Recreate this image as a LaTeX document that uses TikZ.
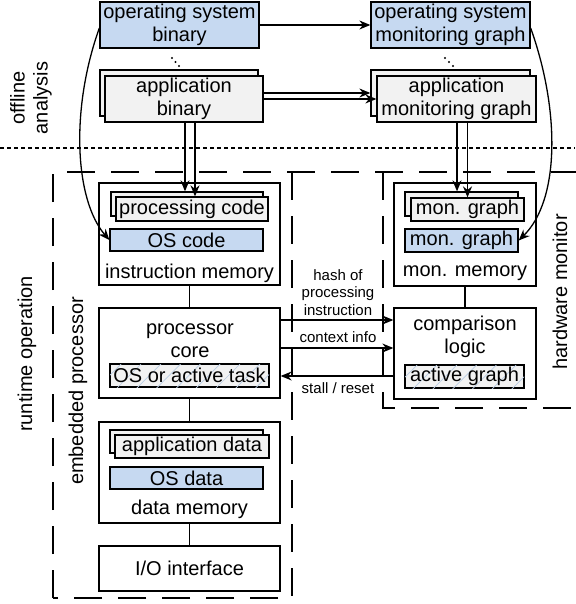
\documentclass[tikz,border=0pt]{standalone}
\usepackage{fontspec}
\setmainfont{Liberation Sans}
\usetikzlibrary{arrows.meta,patterns.meta,calc}
\definecolor{osblue}{HTML}{C6D9F1}
\definecolor{appgray}{HTML}{F2F2F2}
\definecolor{hatchc}{HTML}{B8CCE4}
\newcommand\fbig{\fontsize{20}{23}\selectfont}
\newcommand\fsmall{\fontsize{15}{17.5}\selectfont}
\begin{document}
\begin{tikzpicture}[x=1pt,y=-1pt,
  box/.style={draw=black,line width=1.3pt,fill=white,inner sep=0pt,font=\fbig,align=center},
  osbox/.style={box,fill=osblue},
  appbox/.style={box,fill=appgray},
  taskbox/.style={box,fill=appgray,postaction={pattern={Lines[angle=45,distance=14pt,line width=0.7pt]},pattern color=hatchc}},
  lbl/.style={inner sep=0pt,font=\fbig,align=center},
  slbl/.style={inner sep=0pt,font=\fsmall,align=center},
  wire/.style={line width=1.3pt},
  arr/.style={wire,-{Stealth[length=11pt,width=9pt]}},
  zone/.style={line width=1.8pt,dash pattern=on 28pt off 16pt},
  sz/.style 2 args={minimum width=#1pt,minimum height=#2pt}
]
\useasboundingbox (0,0) rectangle (575,604);

% zones
\draw[line width=2pt,dash pattern=on 4pt off 3pt] (0,148) -- (575,148);
\draw[zone] (53,598) -- (53,172) -- (600,172);
\draw[zone] (292,172) -- (292,598) -- (53,598);
\draw[zone] (383,172) -- (383,408) -- (600,408);

% offline analysis
\node[osbox,sz={159}{46}] (osbin) at (179.5,25) {operating system\\binary};
\node[appbox,sz={158}{46}] (appbinb) at (179,93) {};
\node[appbox,sz={158}{46}] (appbin) at (184,99) {application\\binary};
\node[osbox,sz={159}{46}] (osmg) at (450.5,25) {operating system\\monitoring graph};
\node[appbox,sz={159}{46}] (appmgb) at (450.5,93) {};
\node[appbox,sz={159}{46}] (appmg) at (456.5,99) {application\\monitoring graph};
\foreach \p in {(172,58),(175.5,62),(179,66),(445,58),(449,62),(453,66)}
  \fill \p circle[radius=1.1pt];

% embedded processor
\node[box,sz={181}{102}] (imem) at (189.5,234) {};
\node[appbox,sz={152}{24}] (pcb) at (187,204) {};
\node[appbox,sz={152}{24}] (pc) at (192,209) {processing code};
\node[osbox,sz={153}{22}] (oscode) at (186.5,240) {OS code};
\node[lbl] (imeml) at (189.5,273) {instruction memory};

\node[box,sz={181}{90}] (core) at (189.5,353) {};
\node[lbl] (corel) at (190,341) {processor\\core};
\node[taskbox,sz={159}{23}] (task) at (189.5,375.5) {OS or active task};

\node[box,sz={181}{101}] (dmem) at (189.5,472.5) {};
\node[appbox,sz={153}{23}] (adb) at (186.5,441.5) {};
\node[appbox,sz={154}{23}] (ad) at (192,446.5) {application data};
\node[osbox,sz={153}{22}] (osdata) at (186.5,478) {OS data};
\node[lbl] (dmeml) at (189.5,509) {data memory};

\node[box,sz={181}{45}] (io) at (189.5,568.5) {I/O interface};

% hardware monitor
\node[box,sz={142}{103}] (monmem) at (465,234.5) {};
\node[appbox,sz={113}{24}] (mgb) at (461.5,204) {};
\node[appbox,sz={113}{23}] (mg) at (467.5,209.5) {mon. graph};
\node[osbox,sz={113}{23}] (mgos) at (461.5,240.5) {mon. graph};
\node[lbl] (monmeml) at (465,273) {mon. memory};

\node[box,sz={142}{91}] (cmp) at (465,353.5) {};
\node[lbl] (cmpl) at (465,336.5) {comparison\\logic};
\node[taskbox,sz={119}{23}] (ag) at (464.5,376.5) {active graph};

% side labels
\node[lbl,rotate=90] (offl) at (31,98) {offline\\analysis};
\node[lbl,rotate=90] (rtl) at (27,354) {runtime operation};
\node[lbl,rotate=90] (epl) at (78,391) {embedded processor};
\node[lbl,rotate=90] (hwl) at (560,292) {hardware monitor};

% arrow labels
\node[slbl] (hashl) at (338,292.5) {hash of\\processing\\instruction};
\node[slbl] (ctxl) at (338,337) {context info};
\node[slbl] (stl) at (338,388) {stall / reset};

% connectors
\draw[arr] (osbin) -- (osmg);
\draw[arr] (appbin.east |- appmgb.west) -- (appmgb.west);
\draw[arr] (appbin) -- (appmg);

\coordinate (pa) at ([xshift=-2pt]pcb.north);
\coordinate (pb) at ([xshift=3pt]pc.north);
\draw[arr] (pa |- appbin.south) -- (pa);
\draw[arr] (pb |- appbin.south) -- (pb);
\coordinate (ma) at ([xshift=-4.5pt]mgb.north);
\draw[arr] (ma |- appmg.south) -- (ma);
\draw[arr] (mg.north |- appmg.south) -- (mg.north);

\draw[arr] ([yshift=-3pt]osbin.west) .. controls (70,110) and (75,200) .. (oscode.west);
\draw[arr] ([yshift=-3pt]osmg.east) .. controls (560,110) and (560,200) .. (mgos.east);

\draw[wire] (imem) -- (core);
\draw[wire] (core) -- (dmem);
\draw[wire] (dmem) -- (io);
\draw[wire] (monmem) -- (cmp);

\draw[arr] (core.east |- 0,320) -- (cmp.west |- 0,320);
\draw[arr] (core.east |- 0,348) -- (cmp.west |- 0,348);
\draw[arr] (cmp.west |- 0,376) -- (core.east |- 0,376);
\end{tikzpicture}
\end{document}
